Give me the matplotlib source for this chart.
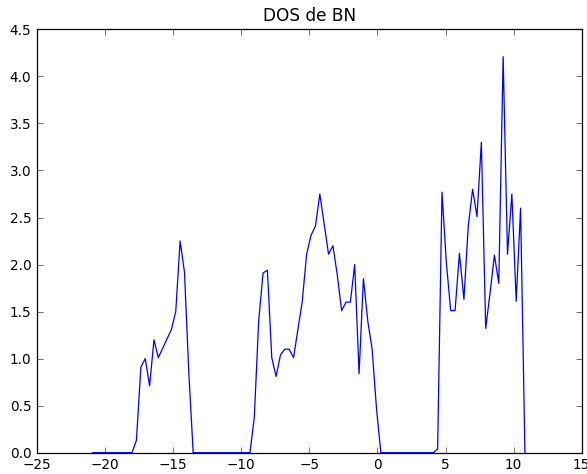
import matplotlib
matplotlib.use('Agg')
import matplotlib.pyplot as plt

# energy grid (eV) and density of states for BN
energy = [-20.90, -20.58, -20.26, -19.94, -19.62, -19.30, -18.98, -18.66, -18.34, -18.02,
          -17.70, -17.37, -17.05, -16.73, -16.41, -16.09, -15.77, -15.45, -15.13, -14.81,
          -14.49, -14.17, -13.85, -13.53, -13.21, -12.89, -12.57, -12.25, -11.93, -11.61,
          -11.29, -10.96, -10.64, -10.32, -10.00, -9.68, -9.36, -9.04, -8.72, -8.40,
          -8.08, -7.76, -7.44, -7.12, -6.80, -6.48, -6.16, -5.84, -5.52, -5.20,
          -4.88, -4.55, -4.23, -3.91, -3.59, -3.27, -2.95, -2.63, -2.31, -1.99,
          -1.67, -1.35, -1.03, -0.71, -0.39, -0.07, 0.25, 0.57, 0.89, 1.21,
          1.53, 1.86, 2.18, 2.50, 2.82, 3.14, 3.46, 3.78, 4.10, 4.42,
          4.74, 5.06, 5.38, 5.70, 6.02, 6.35, 6.67, 6.99, 7.31, 7.63,
          7.95, 8.27, 8.59, 8.91, 9.23, 9.55, 9.87, 10.19, 10.51, 10.83]

dos = [0, 0, 0, 0, 0, 0, 0, 0, 0, 0,
       0.13, 0.91, 1.00, 0.71, 1.20, 1.01, 1.11, 1.21, 1.31, 1.50,
       2.25, 1.92, 0.85, 0, 0, 0, 0, 0, 0, 0,
       0, 0, 0, 0, 0, 0, 0, 0.38, 1.40, 1.91,
       1.94, 1.01, 0.81, 1.04, 1.10, 1.10, 1.01, 1.31, 1.61, 2.11,
       2.31, 2.41, 2.75, 2.43, 2.11, 2.20, 1.89, 1.51, 1.60, 1.60,
       2.00, 0.84, 1.85, 1.40, 1.10, 0.47, 0, 0, 0, 0,
       0, 0, 0, 0, 0, 0, 0, 0, 0, 0.04,
       2.77, 2.02, 1.51, 1.51, 2.12, 1.63, 2.41, 2.80, 2.51, 3.30,
       1.32, 1.70, 2.10, 1.80, 4.21, 2.11, 2.75, 1.61, 2.60, 0]

fig = plt.figure(figsize=(5.87, 4.74), dpi=100)
ax = fig.add_axes([0.063, 0.045, 0.928, 0.893])
ax.plot(energy, dos, color='b', lw=0.9)
ax.set_xlim(-25, 15)
ax.set_ylim(0, 4.5)
ax.set_xticks(range(-25, 16, 5))
ax.set_yticks([0.0, 0.5, 1.0, 1.5, 2.0, 2.5, 3.0, 3.5, 4.0, 4.5])
ax.set_yticklabels(['%.1f' % v for v in ax.get_yticks()])
ax.tick_params(direction='in', length=4, width=0.6, top=True, right=True,
               labelsize=9.8, pad=4, color='0.35')
for s in ax.spines.values():
    s.set_linewidth(0.9)
ax.set_title('DOS de BN', fontsize=12.2, pad=6)

plt.savefig('out.png', dpi=100)
